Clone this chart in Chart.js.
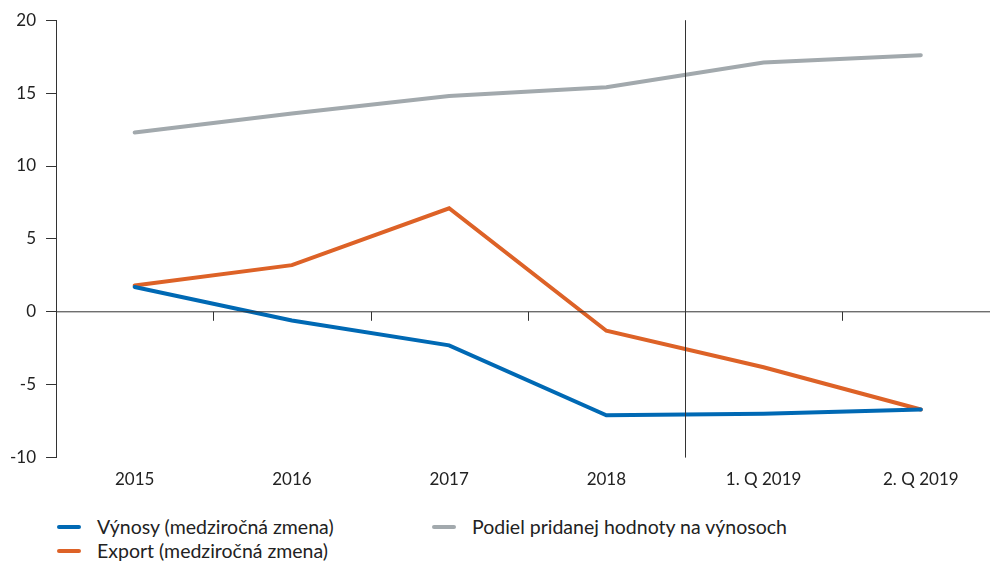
<!DOCTYPE html>
<html>
<head>
<meta charset="utf-8">
<script src="https://cdn.jsdelivr.net/npm/chart.js@4"></script>
<style>
  body { margin: 0; background: #fff; font-family: "Lato", "Open Sans", sans-serif; }
  #wrap { position: relative; width: 990px; height: 565px; }
  #chart { position: absolute; left: 0; top: 0; }
  #legend { position: absolute; left: 0; top: 512px; width: 990px; height: 50px; }
  .item { position: absolute; font-size: 19.5px; color: #222; display: flex; align-items: center; line-height: 24px; }
  .item span.mark { display: inline-block; width: 24px; height: 4px; border-radius: 2px; margin-right: 16px; }
</style>
</head>
<body>
<div id="wrap">
  <canvas id="chart" width="990" height="494"></canvas>
  <div id="legend"></div>
</div>
<script>
const categories = ["2015", "2016", "2017", "2018", "1. Q 2019", "2. Q 2019"];
const vynosy = [1.7, -0.6, -2.3, -7.1, -7.0, -6.7];
const export_ = [1.8, 3.2, 7.1, -1.3, -3.8, -6.7];
const podiel = [12.3, 13.6, 14.8, 15.4, 17.1, 17.6];
const yTicks = [-10, -5, 0, 5, 10, 15, 20];
const separatorAfter = 3; // line between 2018 and 1. Q 2019

const seriesNames = ["Výnosy (medziročná zmena)", "Export (medziročná zmena)", "Podiel pridanej hodnoty na výnosoch"];
const seriesColors = ["#0069b4", "#dd6227", "#a2a9ad"];

const toPoints = arr => arr.map((v, i) => ({ x: i, y: v }));

const axisLines = {
  id: "axisLines",
  afterDatasetsDraw(chart) {
    const { ctx, chartArea, scales } = chart;
    const x = scales.x, y = scales.y;
    const y0 = y.getPixelForValue(0);
    ctx.save();
    ctx.strokeStyle = "#333";
    ctx.lineWidth = 1;
    ctx.beginPath();
    ctx.moveTo(chartArea.left, y0);
    ctx.lineTo(chart.width, y0);
    for (let i = 0; i < categories.length - 1; i++) {
      const px = Math.round(x.getPixelForValue(i + 0.5)) + 0.5;
      if (i === separatorAfter) {
        ctx.moveTo(px, chartArea.top);
        ctx.lineTo(px, chartArea.bottom);
      } else {
        ctx.moveTo(px, y0);
        ctx.lineTo(px, y0 + 9);
      }
    }
    ctx.stroke();
    ctx.restore();
  }
};

const chart = new Chart(document.getElementById("chart"), {
  type: "line",
  data: {
    datasets: [
      { label: seriesNames[0], data: toPoints(vynosy), borderColor: seriesColors[0] },
      { label: seriesNames[1], data: toPoints(export_), borderColor: seriesColors[1] },
      { label: seriesNames[2], data: toPoints(podiel), borderColor: seriesColors[2] }
    ].map(d => Object.assign(d, { borderWidth: 4, pointRadius: 0, tension: 0, fill: false, borderCapStyle: "round" }))
  },
  options: {
    responsive: false,
    animation: false,
    layout: { padding: { top: 12, right: 0, left: 0, bottom: 0 } },
    plugins: { legend: { display: false }, tooltip: { enabled: false } },
    scales: {
      x: {
        type: "linear",
        min: -0.5,
        max: 5.44,
        grid: { display: false },
        border: { display: false },
        afterBuildTicks: s => { s.ticks = categories.map((c, i) => ({ value: i })); },
        ticks: {
          color: "#222",
          font: { family: "Lato", size: 17 },
          padding: 4,
          maxRotation: 0,
          callback: v => categories[v]
        }
      },
      y: {
        min: -10,
        max: 20,
        afterBuildTicks: s => { s.ticks = yTicks.map(v => ({ value: v })); },
        grid: { drawOnChartArea: false, drawTicks: true, tickLength: 10, color: "#333" },
        border: { color: "#333" },
        ticks: { color: "#222", font: { family: "Lato", size: 17 }, padding: 10 }
      }
    }
  },
  plugins: [axisLines]
});

// legend in two columns
const legend = document.getElementById("legend");
const legendPos = [[57, 3], [57, 27], [432, 3]];
seriesNames.forEach((name, i) => {
  const el = document.createElement("div");
  el.className = "item";
  el.style.left = legendPos[i][0] + "px";
  el.style.top = legendPos[i][1] + "px";
  el.innerHTML = '<span class="mark" style="background:' + seriesColors[i] + '"></span>' + name;
  legend.appendChild(el);
});
</script>
</body>
</html>
